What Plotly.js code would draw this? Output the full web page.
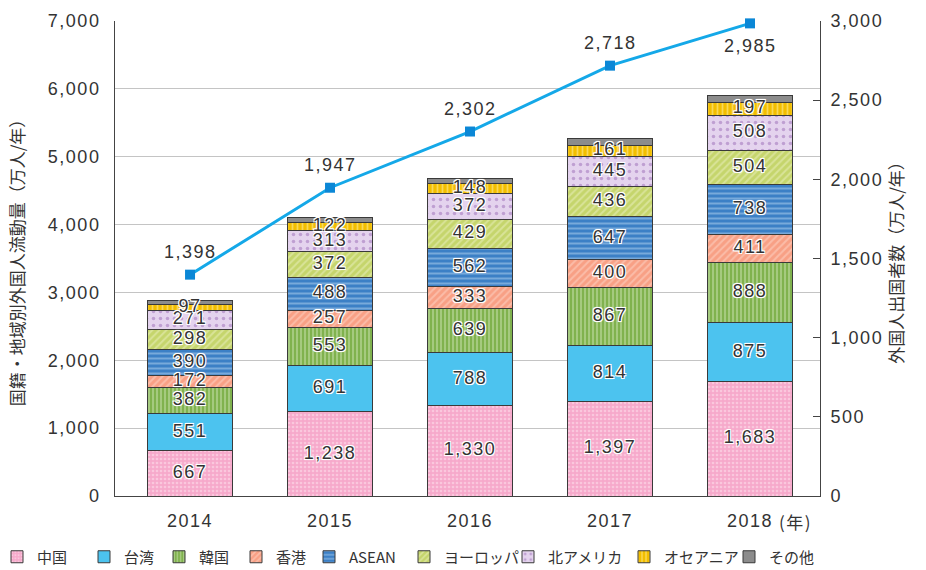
<!DOCTYPE html>
<html>
<head>
<meta charset="utf-8">
<script src="https://cdn.plot.ly/plotly-3.0.1.min.js"></script>
<style>
html,body{margin:0;padding:0;background:#fff;}
#chart{width:926px;height:570px;}
#err{position:absolute;left:200px;top:100px;color:red;font:12px sans-serif;white-space:pre;}
.xtick text,.ytick text,.y2tick text,.textpoint text,.annotation-text{letter-spacing:1.5px;}
</style>
</head>
<body>
<div id="chart"></div>
<div id="err"></div>
<script>
window.onerror = function(m){ document.getElementById('err').textContent += m + '\n'; };
const years = ['2014','2015','2016','2017','2018'];
const china    = [667, 1238, 1330, 1397, 1683];
const taiwan   = [551, 691, 788, 814, 875];
const korea    = [382, 553, 639, 867, 888];
const hongkong = [172, 257, 333, 400, 411];
const asean    = [390, 488, 562, 647, 738];
const europe   = [298, 372, 429, 436, 504];
const namerica = [271, 313, 372, 445, 508];
const oceania  = [97, 122, 148, 161, 197];
const other    = [55, 75, 80, 95, 100];
const departures = [1398, 1947, 2302, 2718, 2985];

const seriesNames = ['中国','台湾','韓国','香港','ASEAN','ヨーロッパ','北アメリカ','オセアニア','その他'];
const seriesData = [china, taiwan, korea, hongkong, asean, europe, namerica, oceania, other];
const styles = [
  {color:'#F6A9CB', pattern:{shape:'.', fgcolor:'#FDE6F0', bgcolor:'#F6A9CB', size:4, solidity:0.35, fillmode:'overlay'}},
  {color:'#4CC3EF'},
  {color:'#80B24E', pattern:{shape:'|', fgcolor:'#D3E7BA', bgcolor:'#80B24E', size:4, solidity:0.45, fillmode:'overlay'}},
  {color:'#F8A085', pattern:{shape:'/', fgcolor:'#FDD8CB', bgcolor:'#F8A085', size:5, solidity:0.4, fillmode:'overlay'}},
  {color:'#3C80C6', pattern:{shape:'-', fgcolor:'#B3D3F0', bgcolor:'#3C80C6', size:5, solidity:0.4, fillmode:'overlay'}},
  {color:'#C5D56C', pattern:{shape:'/', fgcolor:'#EDF2C4', bgcolor:'#C5D56C', size:5, solidity:0.4, fillmode:'overlay'}},
  {color:'#E4D3EE', pattern:{shape:'.', fgcolor:'#9A6CB6', bgcolor:'#E4D3EE', size:7, solidity:0.2, fillmode:'overlay'}},
  {color:'#F2BE00', pattern:{shape:'|', fgcolor:'#FFF2B0', bgcolor:'#F2BE00', size:5, solidity:0.35, fillmode:'overlay'}},
  {color:'#8C8C8C'}
];
// legend entry left positions (px), matched to the reference layout
const legendPx = [-3, 84, 159, 236, 309, 404, 508, 624, 729];

const plotL = 115, plotW = 705, plotT = 21, plotH = 475;

const traces = [];
seriesData.forEach(function(vals, i){
  const m = {color: styles[i].color, line:{color:'#3a3a3a', width:1}};
  if (styles[i].pattern) m.pattern = styles[i].pattern;
  traces.push({
    type:'bar', name:seriesNames[i], x:years.slice(), y:vals.slice(), marker:m,
    legend: i === 0 ? 'legend' : 'legend' + (i + 1)
  });
});

const labX = [], labY = [], labT = [];
const cum = [0,0,0,0,0];
seriesData.forEach(function(vals, i){
  vals.forEach(function(v, j){
    if (i < 8) {
      labX.push(years[j]);
      labY.push(cum[j] + v / 2);
      labT.push(v.toLocaleString('en-US'));
    }
    cum[j] += v;
  });
});
const halo = '1px 1px 0 #fff, -1px -1px 0 #fff, 1px -1px 0 #fff, -1px 1px 0 #fff, 0 1px 1px #fff, 0 -1px 1px #fff';
traces.push({
  type:'scatter', mode:'text', x:labX, y:labY, text:labT, showlegend:false, hoverinfo:'skip',
  textfont:{family:'Liberation Sans, Arial, sans-serif', size:18, color:'#333', shadow:halo}
});

traces.push({
  type:'scatter', mode:'lines+markers', name:'外国人出国者数', x:years.slice(), y:departures.slice(), yaxis:'y2',
  line:{color:'#14A8E8', width:3},
  marker:{symbol:'square', size:10, color:'#0B87D6'},
  showlegend:false, cliponaxis:false
});

const tickFont = {family:'Liberation Sans, Arial, sans-serif', size:18, color:'#333'};
const jpFont = {family:'Noto Sans CJK JP, sans-serif', size:15, color:'#333'};
const titleFont = {family:'Noto Sans CJK JP, sans-serif', size:17, color:'#333'};

// line value labels (category axis: position by category index)
const annotations = departures.map(function(v, j){
  return {x:j, y:v, xref:'x', yref:'y2', text:v.toLocaleString('en-US'), showarrow:false,
          xanchor:'center', yanchor:'middle', yshift: j === departures.length - 1 ? -23 : 23,
          font:{family:'Liberation Sans, Arial, sans-serif', size:18, color:'#333'}};
});
annotations.push({x:(777 - plotL) / plotW, y:-(521 - plotT - plotH) / plotH, xref:'paper', yref:'paper',
                  text:'(年)', showarrow:false, xanchor:'left', yanchor:'middle', font:titleFont});

const layout = {
  width:926, height:570,
  margin:{l:plotL, r:926 - plotL - plotW, t:plotT, b:570 - plotT - plotH, autoexpand:false},
  paper_bgcolor:'#fff', plot_bgcolor:'#fff',
  barmode:'stack', bargap:0.393,
  showlegend:true,
  xaxis:{type:'category', range:[-0.536,4.5], showline:true, linecolor:'#444', linewidth:1, ticks:'', tickfont:tickFont,
         ticklabelstandoff:8, automargin:false},
  yaxis:{range:[0,7000], dtick:1000, tickformat:',d', showline:true, linecolor:'#444', linewidth:1,
         showgrid:true, gridcolor:'#c4c4c4', gridwidth:1, zeroline:false, ticks:'', tickfont:tickFont,
         ticklabelstandoff:10, automargin:false,
         title:{text:'国籍・地域別外国人流動量（万人/年）', font:titleFont, standoff:18}},
  yaxis2:{range:[0,3000], dtick:500, tickformat:',d', overlaying:'y', side:'right', showline:true, linecolor:'#444', linewidth:1,
          showgrid:false, zeroline:false, ticks:'inside', ticklen:7, tickcolor:'#444', tickfont:tickFont,
          ticklabelstandoff:6, automargin:false,
          title:{text:'外国人出国者数（万人/年）', font:titleFont, standoff:8}},
  annotations:annotations
};
legendPx.forEach(function(px, i){
  const key = i === 0 ? 'legend' : 'legend' + (i + 1);
  layout[key] = {orientation:'h', x:(px - plotL) / plotW, xanchor:'left', y:-(557 - (plotT + plotH)) / plotH, yanchor:'middle',
                 font:jpFont, bgcolor:'rgba(0,0,0,0)', itemwidth:30};
});

Plotly.newPlot('chart', traces, layout, {displayModeBar:false}).catch(function(e){
  document.getElementById('err').textContent += 'ERR ' + e + '\n';
});
</script>
</body>
</html>
